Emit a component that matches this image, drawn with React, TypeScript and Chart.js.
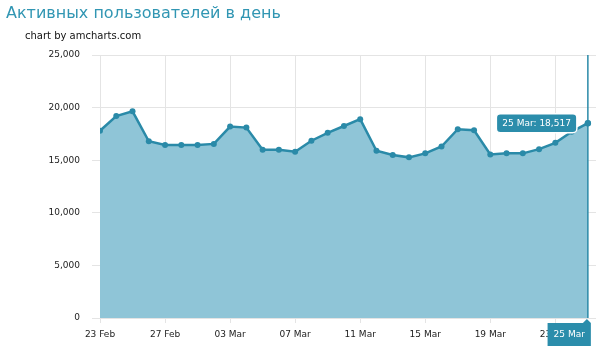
import React, { useEffect, useRef } from "react";
import { Chart, registerables } from "chart.js";

Chart.register(...registerables);

const titleText = "Активных пользователей в день";
const subtitleText = "chart by amcharts.com";
const dates = [
  "23 Feb", "24 Feb", "25 Feb", "26 Feb", "27 Feb", "28 Feb",
  "01 Mar", "02 Mar", "03 Mar", "04 Mar", "05 Mar", "06 Mar", "07 Mar", "08 Mar",
  "09 Mar", "10 Mar", "11 Mar", "12 Mar", "13 Mar", "14 Mar", "15 Mar", "16 Mar",
  "17 Mar", "18 Mar", "19 Mar", "20 Mar", "21 Mar", "22 Mar", "23 Mar", "24 Mar", "25 Mar",
];
const values = [
  17800, 19200, 19650, 16800, 16450, 16450, 16450, 16550, 18200, 18100, 16000,
  16000, 15800, 16850, 17600, 18250, 18900, 15900, 15500, 15270, 15650, 16300,
  17950, 17850, 15550, 15650, 15650, 16050, 16650, 17700, 18517,
];
const tickIndices = [0, 4, 8, 12, 16, 20, 24, 28];
const yTicks = [0, 5000, 10000, 15000, 20000, 25000];

const LINE = "#2a8aa8";
const FILL = "#8fc5d7";
const TEAL_BOX = "#2b8dab";
const FONT = "'DejaVu Sans', Verdana, sans-serif";

const fmt = (v: number) => v.toLocaleString("en-US");

const overlayPlugin = {
  id: "overlay",
  afterDatasetsDraw(chart: any) {
    const ctx = chart.ctx;
    const xs = chart.scales.x;
    const ys = chart.scales.y;
    const area = chart.chartArea;
    const idx = values.length - 1;
    const px = xs.getPixelForValue(idx);
    const py = ys.getPixelForValue(values[idx]);
    ctx.save();
    // cursor line
    ctx.strokeStyle = LINE;
    ctx.lineWidth = 1.5;
    ctx.beginPath();
    ctx.moveTo(px, area.top);
    ctx.lineTo(px, area.bottom);
    ctx.stroke();
    // point again on top
    ctx.fillStyle = LINE;
    ctx.beginPath();
    ctx.arc(px, py, 3.2, 0, Math.PI * 2);
    ctx.fill();

    // tooltip balloon
    ctx.font = "9px " + FONT;
    const label = dates[idx] + ": " + fmt(values[idx]);
    const tw = ctx.measureText(label).width;
    const bw = tw + 12;
    const bh = 19;
    const bx = px - 11 - bw;
    const by = py - bh / 2;
    ctx.beginPath();
    (ctx as any).roundRect(bx, by, bw, bh, 4);
    ctx.fillStyle = TEAL_BOX;
    ctx.fill();
    ctx.strokeStyle = "#ffffff";
    ctx.lineWidth = 1.5;
    ctx.stroke();
    ctx.fillStyle = "#ffffff";
    ctx.textAlign = "center";
    ctx.textBaseline = "middle";
    ctx.fillText(label, bx + bw / 2, by + bh / 2 + 0.5);

    // category balloon at bottom
    const cl = dates[idx];
    const cw = ctx.measureText(cl).width + 12;
    const ch = 23;
    const cx = px + 3 - cw;
    const cy = area.bottom + 5;
    ctx.fillStyle = TEAL_BOX;
    ctx.fillRect(cx, cy, cw, ch);
    ctx.beginPath();
    ctx.moveTo(px - 5, cy);
    ctx.lineTo(px - 1, area.bottom + 1);
    ctx.lineTo(px + 3, cy);
    ctx.closePath();
    ctx.fill();
    ctx.fillStyle = "#ffffff";
    ctx.fillText(cl, cx + cw / 2, cy + ch / 2 + 0.5);
    ctx.restore();
  },
  afterDraw(chart: any) {
    const ctx = chart.ctx;
    ctx.save();
    ctx.textAlign = "left";
    ctx.textBaseline = "middle";
    ctx.fillStyle = "#3196b3";
    ctx.font = "16px " + FONT;
    ctx.fillText(titleText, 6, 14);
    ctx.fillStyle = "#111111";
    ctx.font = "10px " + FONT;
    ctx.fillText(subtitleText, 25, 36);
    ctx.restore();
  },
};

export default function App() {
  const ref = useRef<HTMLCanvasElement | null>(null);
  useEffect(() => {
    if (!ref.current) return;
    const chart = new Chart(ref.current, {
      type: "line",
      data: {
        datasets: [
          {
            data: values.map((v, i) => ({ x: i, y: v })),
            borderColor: LINE,
            backgroundColor: FILL,
            fill: "origin",
            borderWidth: 2.5,
            pointRadius: 3,
            pointBackgroundColor: LINE,
            pointBorderColor: LINE,
            pointBorderWidth: 0,
            tension: 0,
          },
        ],
      },
      options: {
        animation: false,
        responsive: false,
        devicePixelRatio: 1,
        layout: { padding: { left: 0, right: 3, top: 55, bottom: 0 } },
        plugins: {
          legend: { display: false },
          tooltip: { enabled: false },
          title: { display: false },
        },
        scales: {
          x: {
            type: "linear",
            min: 0,
            max: 30.5,
            afterBuildTicks: (scale: any) => {
              scale.ticks = tickIndices.map((v) => ({ value: v }));
            },
            afterFit: (scale: any) => {
              scale.height = 43;
            },
            ticks: {
              autoSkip: false,
              maxRotation: 0,
              padding: 6,
              color: "#222",
              font: { family: FONT, size: 9 },
              callback: (v: any) => dates[Number(v)] ?? "",
            },
            grid: { color: "#e4e4e4", lineWidth: 1, tickLength: 5, drawTicks: true },
            border: { display: false },
          },
          y: {
            min: 0,
            max: 25000,
            afterBuildTicks: (scale: any) => {
              scale.ticks = yTicks.map((v) => ({ value: v }));
            },
            afterFit: (scale: any) => {
              scale.width = 100;
            },
            ticks: {
              padding: 12,
              color: "#222",
              font: { family: FONT, size: 9 },
              callback: (v: any) => fmt(Number(v)),
            },
            grid: { color: "#e4e4e4", lineWidth: 1, tickLength: 8, drawTicks: true },
            border: { display: false },
          },
        },
      } as any,
      plugins: [overlayPlugin],
    });
    return () => chart.destroy();
  }, []);
  return (
    <div style={{ position: "absolute", left: 0, top: 0, width: 600, height: 361, background: "#fff" }}>
      <canvas ref={ref} width={600} height={361} style={{ display: "block", width: 600, height: 361 }} />
    </div>
  );
}
